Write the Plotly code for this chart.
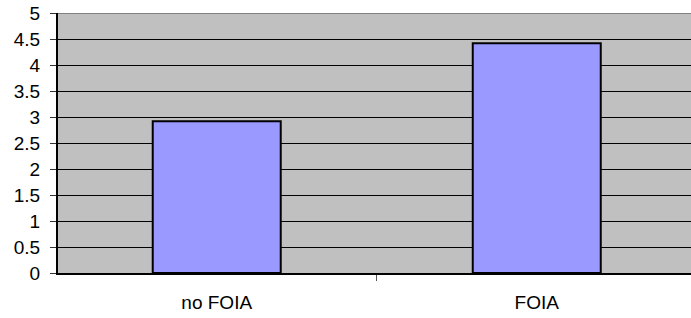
import plotly.graph_objects as go

categories = ["no FOIA", "FOIA"]
values = [2.92, 4.42]
y_ticks = [0, 0.5, 1, 1.5, 2, 2.5, 3, 3.5, 4, 4.5, 5]
y_tick_labels = ["0", "0.5", "1", "1.5", "2", "2.5", "3", "3.5", "4", "4.5", "5"]

fig = go.Figure(
    go.Bar(
        x=categories,
        y=values,
        width=0.4,
        marker=dict(color="#9999FF", line=dict(color="#000000", width=2)),
        hoverinfo="skip",
    )
)

font = dict(family="Liberation Sans, Arial, sans-serif", size=19, color="#000000")

fig.update_layout(
    width=691,
    height=318,
    margin=dict(l=58, r=0, t=13, b=45, autoexpand=False),
    paper_bgcolor="#FFFFFF",
    plot_bgcolor="#C0C0C0",
    showlegend=False,
    font=font,
    xaxis=dict(
        type="category",
        range=[-0.496, 1.482],
        automargin=False,
        showgrid=False,
        showline=True,
        linecolor="#000000",
        linewidth=2,
        ticks="outside",
        tickson="boundaries",
        ticklen=6,
        tickcolor="#555555",
        tickfont=font,
        ticklabelstandoff=11,
    ),
    yaxis=dict(
        range=[0, 5],
        automargin=False,
        tickvals=y_ticks,
        ticktext=y_tick_labels,
        showgrid=True,
        gridcolor="#000000",
        gridwidth=1,
        zeroline=False,
        showline=True,
        linecolor="#000000",
        linewidth=2,
        ticks="outside",
        ticklen=6,
        tickcolor="#333333",
        tickfont=font,
        ticklabelstandoff=6,
    ),
    shapes=[
        dict(type="line", xref="paper", yref="y", x0=0, x1=1, y0=5, y1=5,
             line=dict(color="#808080", width=2), layer="above"),
    ],
)

fig.write_html(
    "out.html",
    config={"displayModeBar": False, "staticPlot": True},
    post_script="document.body.style.margin='0px';document.body.style.overflow='hidden';",
)
